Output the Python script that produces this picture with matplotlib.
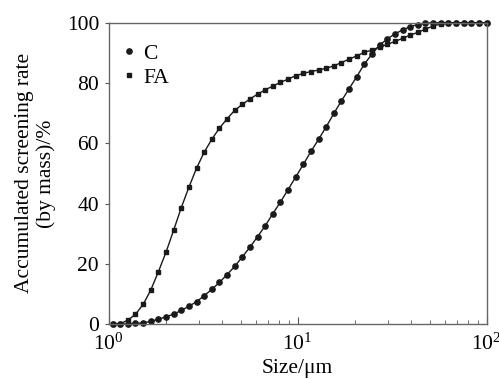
import matplotlib
matplotlib.use("Agg")
import matplotlib.pyplot as plt
from matplotlib.ticker import LogLocator, FixedLocator

plt.rcParams['font.family'] = ['Liberation Serif', 'DejaVu Serif']
plt.rcParams['mathtext.fontset'] = 'custom'
plt.rcParams['mathtext.rm'] = 'Liberation Serif'

# particle size (um), same grid for both samples
size = [1.047, 1.149, 1.261, 1.384, 1.519, 1.667, 1.829, 2.008, 2.204, 2.419,
        2.655, 2.914, 3.198, 3.510, 3.852, 4.227, 4.639, 5.092, 5.588, 6.133,
        6.730, 7.387, 8.107, 8.897, 9.764, 10.72, 11.76, 12.91, 14.17, 15.55,
        17.06, 18.73, 20.55, 22.56, 24.75, 27.16, 29.81, 32.72, 35.91, 39.41,
        43.25, 47.47, 52.10, 57.18, 62.75, 68.87, 75.58, 82.95, 91.03, 100.0]

c_rate = [0.0, 0.0, 0.1, 0.2, 0.4, 0.9, 1.6, 2.4, 3.3, 4.5,
          5.9, 7.4, 9.4, 11.5, 13.8, 16.4, 19.1, 22.3, 25.5, 29.0,
          32.6, 36.6, 40.5, 44.6, 48.8, 53.0, 57.3, 61.3, 65.5, 69.9,
          74.1, 78.1, 82.1, 86.3, 89.6, 92.6, 94.6, 96.3, 97.6, 98.7,
          99.4, 99.8, 100.0, 100.0, 100.0, 100.0, 100.0, 100.0, 100.0, 100.0]

fa_rate = [0.0, 0.1, 1.3, 3.2, 6.5, 11.2, 17.3, 23.8, 31.1, 38.6,
           45.4, 51.7, 57.0, 61.3, 65.0, 68.1, 70.9, 72.9, 74.7, 76.3,
           77.7, 79.0, 80.2, 81.3, 82.4, 83.2, 83.8, 84.3, 84.9, 85.7,
           86.8, 87.9, 89.0, 90.2, 90.9, 92.0, 92.8, 93.8, 94.8, 95.9,
           96.8, 97.9, 98.9, 99.6, 99.9, 100.0, 100.0, 100.0, 100.0, 100.0]

fig = plt.figure(figsize=(4.99, 3.79), dpi=100)
ax = fig.add_axes([0.218, 0.145, 0.757, 0.795])

ax.plot(size, c_rate, color='#1a1a1a', lw=1.0, marker='o', ms=3.8, label='C', clip_on=False)
ax.plot(size, fa_rate, color='#1a1a1a', lw=1.0, marker='s', ms=3.4, label='FA', clip_on=False)

ax.set_xscale('log')
ax.set_xlim(1, 100)
ax.set_ylim(0, 100)
ax.yaxis.set_major_locator(FixedLocator([0, 20, 40, 60, 80, 100]))
ax.xaxis.set_major_locator(LogLocator(base=10))
ax.xaxis.set_minor_locator(LogLocator(base=10, subs=range(2, 10)))

ax.tick_params(axis='x', which='major', direction='in', labelsize=15.5,
               top=False, length=5, color='#555555', pad=7)
ax.tick_params(axis='x', which='minor', direction='in', top=False, length=3, color='#555555')
ax.tick_params(axis='y', which='major', direction='out', labelsize=15.5,
               right=False, length=3, color='#555555', pad=4)
ax.tick_params(axis='y', which='minor', left=False, right=False)
for s in ax.spines.values():
    s.set_color('#666666')
    s.set_linewidth(1.0)

ax.set_xlabel('Size/μm', fontsize=15.5, labelpad=3)
ax.set_ylabel('Accumulated screening rate\n(by mass)/%', fontsize=15.5, labelpad=8, linespacing=1.15)

leg = ax.legend(loc='upper left', frameon=False, fontsize=15.5, handlelength=0.5,
                handletextpad=0.4, borderaxespad=0.3, labelspacing=0.17,
                bbox_to_anchor=(0.0, 0.98))
for h in leg.legend_handles:
    h.set_linestyle('None')

fig.savefig('out.png', dpi=100)
